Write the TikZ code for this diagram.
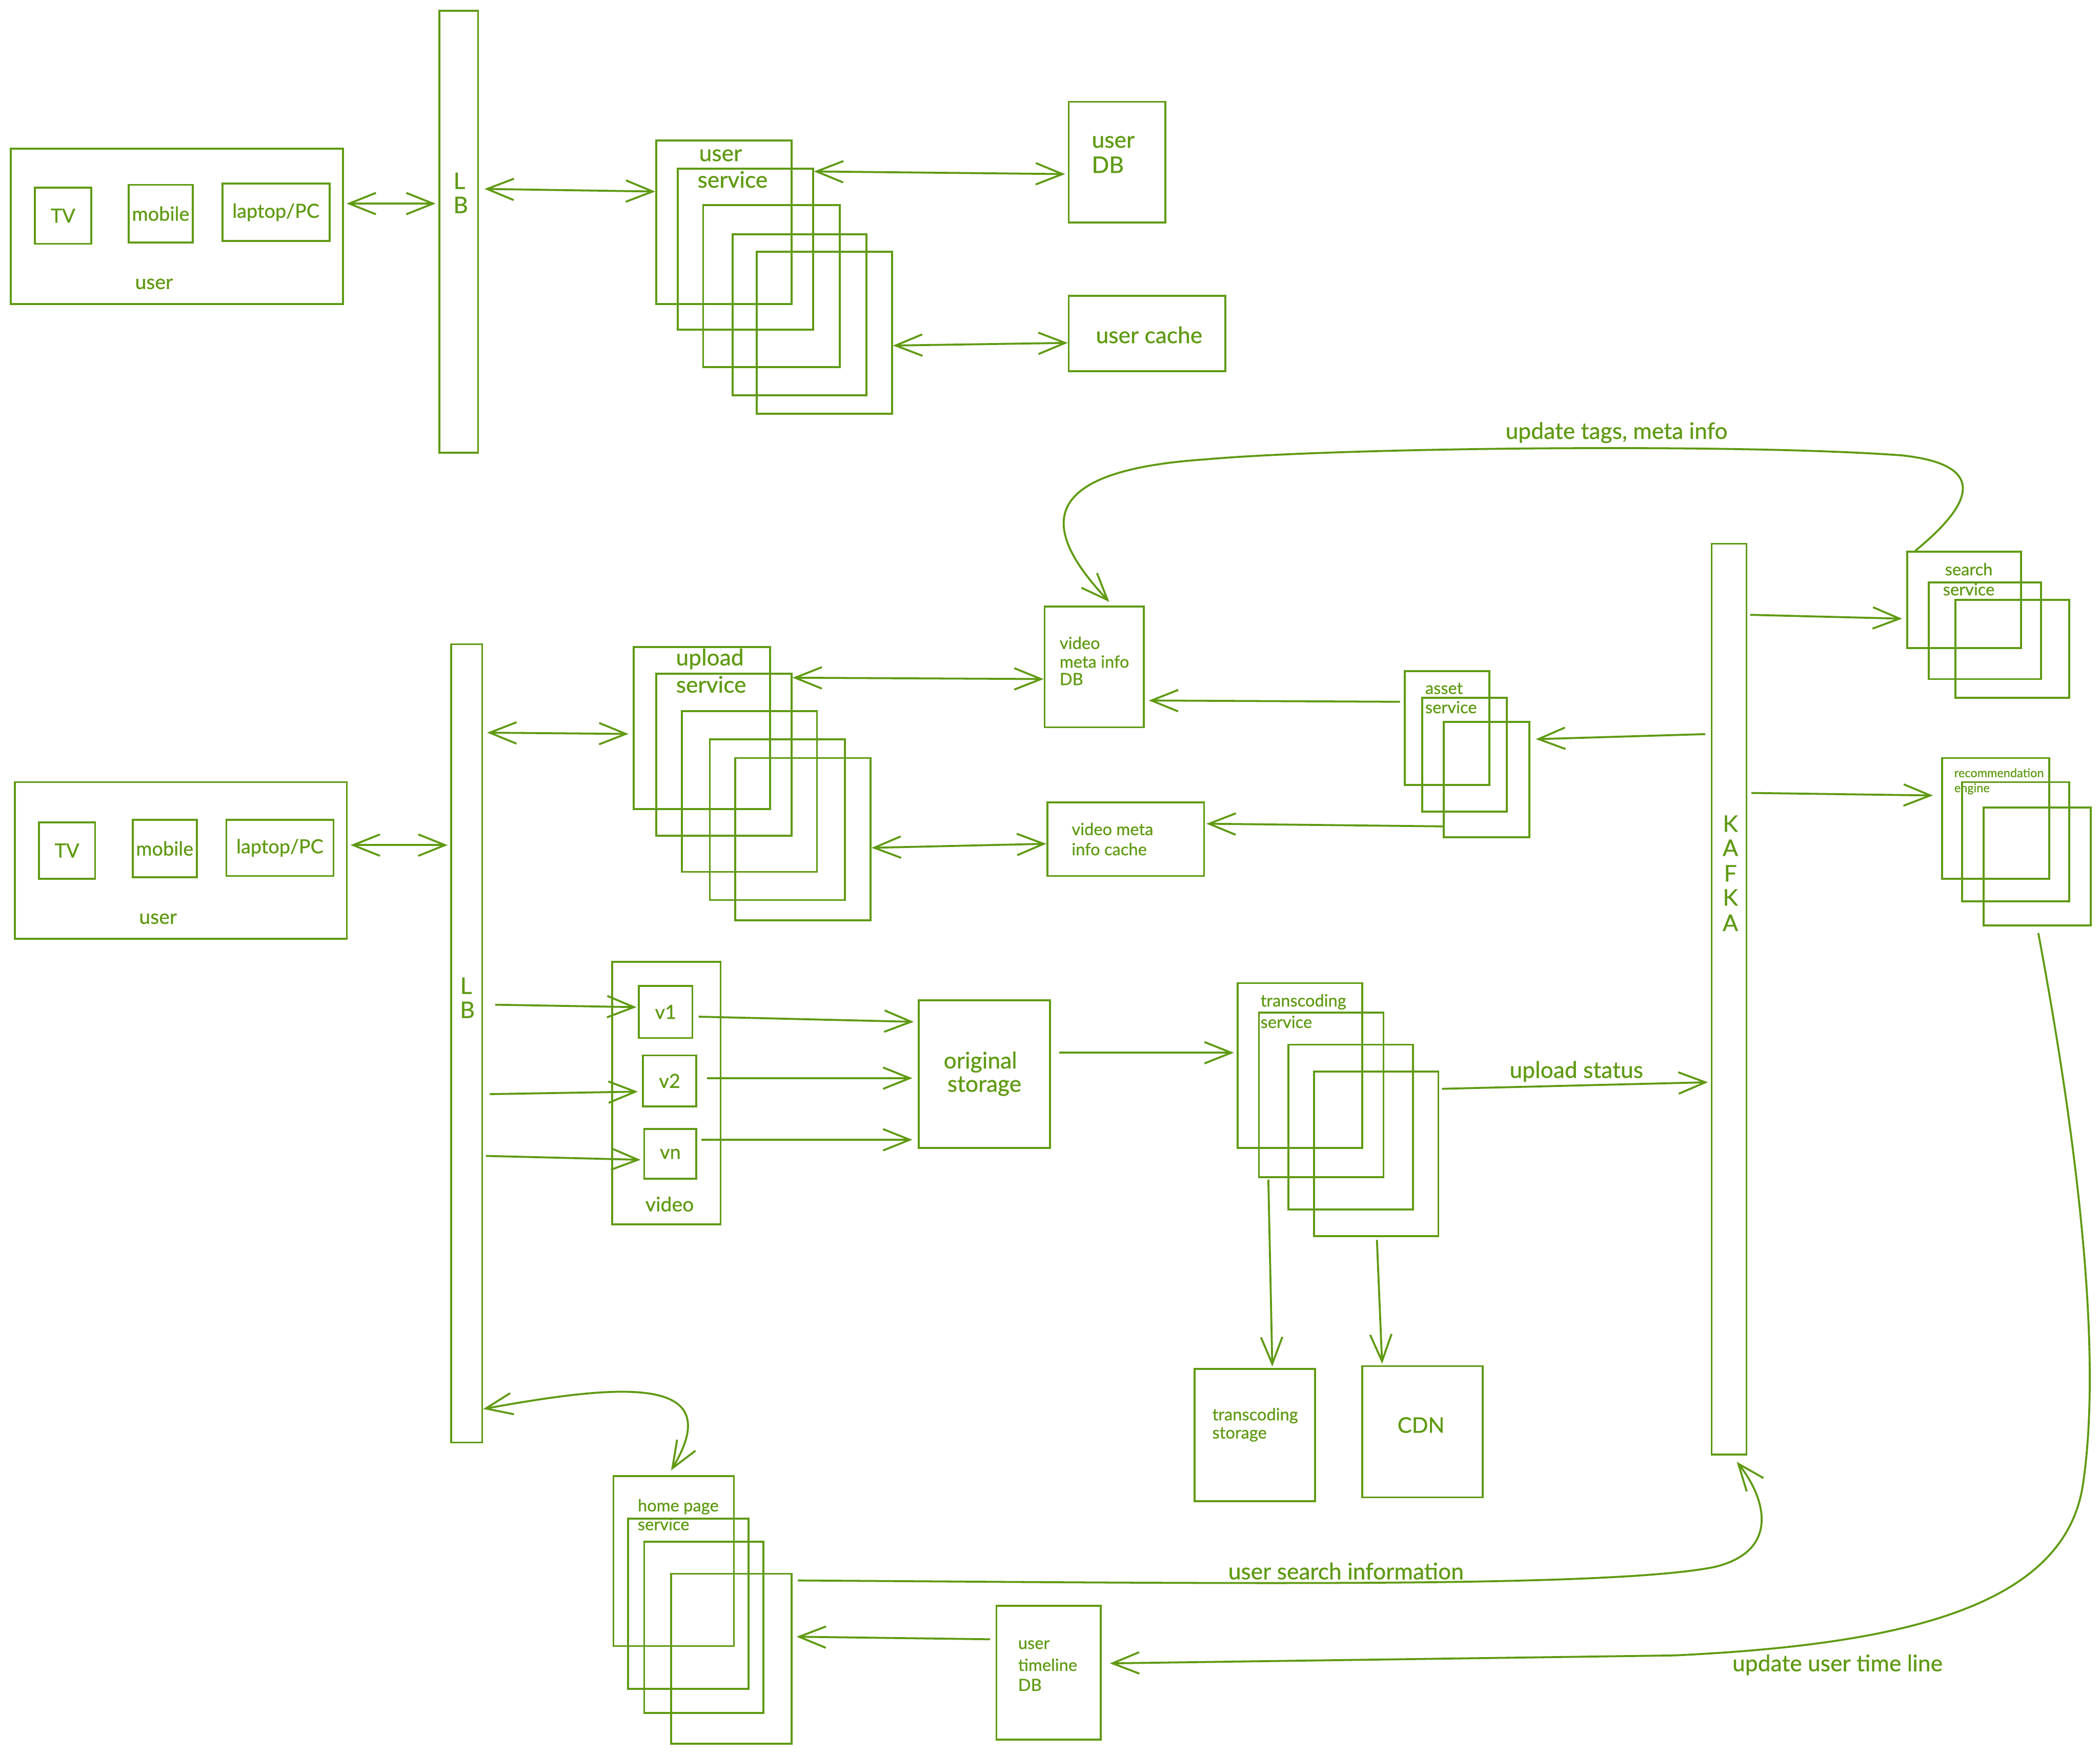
\documentclass[tikz,border=0pt]{standalone}
\usepackage{fontspec}
\setmainfont{Lato}[FakeBold=0.7]
\usetikzlibrary{arrows.meta,fit,calc}
\definecolor{lime}{HTML}{5F9A12}
\newcommand{\bxx}[5]{\node[box, fit={(#2,#3) (#4,#5)}] (#1) {};}
\begin{document}
\begin{tikzpicture}[x=1pt,y=-1pt,
  box/.style={draw=lime, line width=1.45pt, inner sep=0pt},
  tb/.style={text=lime, inner sep=0pt, font=\fontsize{17}{20}\selectfont},
  tv/.style={text=lime, inner sep=0pt, font=\fontsize{14.5}{16}\selectfont},
  tm/.style={text=lime, inner sep=0pt, font=\fontsize{12.5}{15}\selectfont},
  tsm/.style={text=lime, inner sep=0pt, font=\fontsize{9}{11}\selectfont},
  conn/.style={draw=lime, line width=1.45pt},
  >={Straight Barb[length=20pt,width=16pt]}]
\fill[white] (0,0) rectangle (1568,1310);
\useasboundingbox (0,0) rectangle (1568,1310);

% ================= TOP =================
\bxx{u1}{8}{111}{256}{227}
\bxx{tv1}{26}{140}{68}{182}
\bxx{mob1}{96}{138}{144}{181}
\bxx{lap1}{166}{137}{246}{180}
\node[tv] (tv1T) at (tv1) {TV};
\node[tv] (mob1T) at (mob1) {mobile};
\node[tv] (lap1T) at (lap1) {laptop/PC};
\node[tb, font=\fontsize{15}{18}\selectfont] (u1T) at (115,212) {user};

\bxx{lb1}{328}{8}{357}{338}
\node[tb] (lb1L) at (343,135) {L};
\node[tb] (lb1B) at (344,153) {B};

\bxx{us1}{490}{105}{591}{227}
\bxx{us2}{506}{126}{607}{246}
\bxx{us3}{525}{153}{627}{274}
\bxx{us4}{547}{175}{647}{295}
\bxx{us5}{565}{188}{666}{309}
\node[tb] (usT1) at (538,116) {user};
\node[tb] (usT2) at (547,134) {service};

\bxx{udb}{798}{76}{870}{166}
\node[tb, anchor=west] (udbT1) at (815,106) {user};
\node[tb, anchor=west] (udbT2) at (815,123) {DB};

\bxx{uc}{798}{221}{915}{277}
\node[tb] (ucT) at (858,250) {user cache};

\draw[conn,<->,shorten <=2pt,shorten >=2pt] (u1.east |- 0,152) -- (lb1.west |- 0,152);
\draw[conn,<->,shorten <=4pt] (lb1.east |- 0,141) -- (us1.west |- 0,143);
\draw[conn,<->,shorten >=2pt] (us2.east |- 0,128) -- (udb.west |- 0,130);
\draw[conn,<->] (us5.east |- 0,258) -- (uc.west |- 0,256);

% ================= MIDDLE =================
\bxx{lb2}{337}{481}{360}{1077}
\node[tb] (lb2L) at (348,736) {L};
\node[tb] (lb2B) at (349,754) {B};

\bxx{u2}{11}{584}{259}{701}
\bxx{tv2}{29}{614}{71}{656}
\bxx{mob2}{99}{612}{147}{655}
\bxx{lap2}{169}{612}{249}{654}
\node[tv] (tv2T) at (tv2) {TV};
\node[tv] (mob2T) at (mob2) {mobile};
\node[tv] (lap2T) at (lap2) {laptop/PC};
\node[tb, font=\fontsize{15}{18}\selectfont] (u2T) at (118,686) {user};
\draw[conn,<->,shorten <=2pt,shorten >=2pt] (u2.east |- 0,631) -- (lb2.west |- 0,631);

\bxx{up1}{473}{483}{575}{604}
\bxx{up2}{490}{503}{591}{624}
\bxx{up3}{509}{531}{610}{651}
\bxx{up4}{530}{552}{631}{672}
\bxx{up5}{549}{566}{650}{687}
\node[tb] (upT1) at (530,492) {upload};
\node[tb] (upT2) at (531,511) {service};
\draw[conn,<->,shorten <=3pt,shorten >=3pt] (lb2.east |- 0,547) -- (up1.west |- 0,548);

\bxx{vdb}{780}{453}{854}{543}
\node[tm, anchor=west] (vdbT1) at (791,480) {video};
\node[tm, anchor=west] (vdbT2) at (791,494) {meta info};
\node[tm, anchor=west] (vdbT3) at (791,507) {DB};
\draw[conn,<->] (up2.east |- 0,506) -- (vdb.west |- 0,507);

\bxx{vc}{782}{599}{899}{654}
\node[tm, anchor=west] (vcT1) at (800,619) {video meta};
\node[tm, anchor=west] (vcT2) at (800,634) {info cache};
\draw[conn,<->] (up5.east |- 0,633) -- (vc.west |- 0,630);

\bxx{as1}{1049}{501}{1112}{586}
\bxx{as2}{1062}{521}{1125}{606}
\bxx{as3}{1078}{539}{1142}{625}
\node[tm, anchor=west] (asT1) at (1064,514) {asset};
\node[tm, anchor=west] (asT2) at (1064,528) {service};
\draw[conn,->,shorten <=3pt,shorten >=3pt] (as1.west |- 0,524) -- (vdb.east |- 0,523);
\draw[conn,->,shorten >=1pt] (as3.west |- 0,617) -- (vc.east |- 0,615);

\bxx{kafka}{1278}{406}{1304}{1086}
\node[tb] (kK1) at (1292,615) {K};
\node[tb] (kA1) at (1292,633) {A};
\node[tb] (kF) at (1292,652) {F};
\node[tb] (kK2) at (1292,670) {K};
\node[tb] (kA2) at (1292,689) {A};
\draw[conn,->,shorten <=4pt,shorten >=4pt] (kafka.west |- 0,548) -- (as3.east |- 0,552);

\bxx{ss1}{1424}{412}{1509}{484}
\bxx{ss2}{1440}{435}{1524}{507}
\bxx{ss3}{1460}{448}{1545}{521}
\node[tm] (ssT1) at (1470,425) {search};
\node[tm] (ssT2) at (1470,440) {service};
\draw[conn,->,shorten <=2pt,shorten >=3pt] (kafka.east |- 0,459) -- (ss1.west |- 0,462);

\bxx{re1}{1450}{566}{1530}{656}
\bxx{re2}{1465}{584}{1545}{673}
\bxx{re3}{1481}{603}{1561}{691}
\node[tsm, anchor=west] (reT1) at (1459,577) {recommendation};
\node[tsm, anchor=west] (reT2) at (1459,589) {engine};
\draw[conn,->,shorten <=3pt,shorten >=6pt] (kafka.east |- 0,592) -- (re1.west |- 0,594);

\draw[conn,->,shorten >=4pt] (ss1.north -| 1430,0) .. controls (1462,385) and (1495,348) .. (1420,340)
   .. controls (1300,331) and (1000,334) .. (900,343)
   .. controls (765,352) and (782,400) .. (vdb.north -| 831,0);
\node[tb] (tagsT) at (1207,323) {update tags, meta info};

% ================= VIDEO =================
\bxx{vid}{457}{718}{538}{914}
\node[tb, font=\fontsize{15}{18}\selectfont] (vidT) at (500,899) {video};
\bxx{v1}{477}{736}{517}{775}
\bxx{v2}{480}{788}{520}{826}
\bxx{vn}{481}{843}{520}{880}
\node[tv] (v1T) at (v1) {v1};
\node[tv] (v2T) at (v2) {v2};
\node[tv] (vnT) at (vn) {vn};
\draw[conn,->,shorten <=9pt,shorten >=1pt] (lb2.east |- 0,750) -- (v1.west |- 0,752);
\draw[conn,->,shorten <=5pt,shorten >=3pt] (lb2.east |- 0,817) -- (v2.west |- 0,815);
\draw[conn,->,shorten <=2pt,shorten >=2pt] (lb2.east |- 0,863) -- (vn.west |- 0,866);

\bxx{os}{686}{747}{784}{857}
\node[tb] (osT1) at (732,793) {original};
\node[tb] (osT2) at (735,811) {storage};
\draw[conn,->,shorten <=4pt,shorten >=3pt] (v1.east |- 0,759) -- (os.west |- 0,763);
\draw[conn,->,shorten <=7pt,shorten >=4pt] (v2.east |- 0,805) -- (os.west |- 0,805);
\draw[conn,->,shorten <=3pt,shorten >=4pt] (vn.east |- 0,851) -- (os.west |- 0,851);

\bxx{tr1}{924}{734}{1017}{857}
\bxx{tr2}{940}{756}{1033}{879}
\bxx{tr3}{962}{780}{1055}{903}
\bxx{tr4}{981}{800}{1074}{923}
\node[tm, anchor=west] (trT1) at (941,748) {transcoding};
\node[tm, anchor=west] (trT2) at (941,763) {service};
\draw[conn,->,shorten <=6pt,shorten >=2pt] (os.east |- 0,786) -- (tr1.west |- 0,786);
\draw[conn,->,shorten <=2pt,shorten >=2pt] (tr4.east |- 0,813) -- (kafka.west |- 0,808);
\node[tb] (usT) at (1177,800) {upload status};

\bxx{ts}{892}{1022}{982}{1121}
\node[tm, anchor=west] (tsT1) at (905,1057) {transcoding};
\node[tm, anchor=west] (tsT2) at (905,1071) {storage};
\bxx{cdn}{1017}{1020}{1107}{1118}
\node[tb, font=\fontsize{16}{18}\selectfont] (cdnT) at (1061,1064) {CDN};
\draw[conn,->,shorten <=1pt,shorten >=1pt] (tr2.south -| 947,0) -- (ts.north -| 950,0);
\draw[conn,->,shorten <=2pt,shorten >=1pt] (tr4.south -| 1028,0) -- (cdn.north -| 1032,0);

% ================= BOTTOM =================
\bxx{hp1}{458}{1102}{548}{1229}
\bxx{hp2}{469}{1134}{559}{1261}
\bxx{hp3}{481}{1151}{570}{1279}
\bxx{hp4}{501}{1175}{591}{1302}
\node[tm, anchor=west] (hpT1) at (476,1125) {home page};
\node[tm, anchor=west] (hpT2) at (476,1138) {service};
\draw[conn,<->,shorten >=4pt] (lb2.east |- 0,1052) .. controls (460,1034) and (545,1025) .. (hp1.north -| 499,0);

\bxx{utdb}{744}{1199}{822}{1299}
\node[tm, anchor=west] (utT1) at (760,1228) {user};
\node[tm, anchor=west] (utT2) at (760,1243) {timeline};
\node[tm, anchor=west] (utT3) at (760,1258) {DB};
\draw[conn,->,shorten <=4pt,shorten >=3pt] (utdb.west |- 0,1224) -- (hp4.east |- 0,1222);

\draw[conn,->,shorten <=4pt,shorten >=6pt] (hp4.east |- 0,1180) .. controls (900,1182) and (1200,1186) .. (1280,1170)
   .. controls (1330,1158) and (1318,1118) .. (kafka.south -| 1293,0);
\node[tb] (usiT) at (1005,1173) {user search information};

\draw[conn,->,shorten <=5pt,shorten >=6pt] (re3.south -| 1521,0) .. controls (1545,820) and (1572,1000) .. (1555,1110)
   .. controls (1540,1200) and (1420,1228) .. (1250,1236) -- (utdb.east |- 0,1242);
\node[tb] (uutT) at (1372,1243) {update user time line};
\end{tikzpicture}
\end{document}
